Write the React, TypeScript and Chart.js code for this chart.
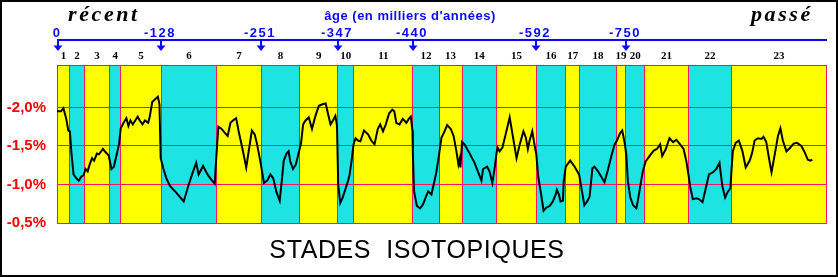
import React, { useEffect, useRef } from 'react';
import { Chart, registerables } from 'chart.js';

Chart.register(...registerables);

// ---- data ----
const stageNumbers = [1, 2, 3, 4, 5, 6, 7, 8, 9, 10, 11, 12, 13, 14, 15, 16, 17, 18, 19, 20, 21, 22, 23];
// stage limits along the time axis (thousands of years, as drawn)
const stageBounds = [0, 16, 33.5, 65.5, 79, 129, 198, 253, 301, 347.5, 368, 441, 473.5, 502, 544.5, 594.5, 630, 648, 693, 705, 728.5, 782, 836.5, 953];
const ageLabels = ['0', '-128', '-251', '-347', '-440', '-592', '-750'];
const agePositions = [0, 128, 251, 347, 440, 592, 704];
const yTickValues = [-2.0, -1.5, -1.0, -0.5];

const curveAge = [
  0, 5, 8, 11.5, 14, 16, 18, 20.5, 24, 27, 30, 33, 35.5, 38, 40.5, 43.5, 46, 49.5, 52, 57, 60, 64, 67.5, 70.5, 74, 77, 79, 82.5, 86, 88.5,
  91, 94, 97, 100, 102.5, 106, 109, 113, 115, 118, 121, 125, 127, 128.5, 132, 135.5, 140, 148, 157, 163, 168, 172.5, 175.5, 181, 186, 190,
  195.5, 196.5, 198.5, 200, 204, 208, 211.5, 215, 218, 222, 225.5, 230.5, 234.5, 238, 241.5, 245, 248, 252, 256.5, 260.5, 264.5, 268, 272,
  276, 278.5, 281, 284.5, 287, 289, 292.5, 296, 300, 302.5, 305, 308, 312, 316, 320, 324.5, 329, 333, 336, 339, 342, 345, 347, 348.5, 351,
  354, 356.5, 360.5, 362.5, 365, 367.5, 370, 373, 376, 380.5, 385.5, 389.5, 393.5, 397.5, 400.5, 404, 407.5, 411.5, 415.5, 418, 420.5,
  424.5, 428.5, 433, 436, 438.5, 440.5, 441, 442.5, 446, 450, 453.5, 457.5, 460, 464, 467, 470, 473.5, 476.5, 479.5, 483.5, 488, 491.5,
  495, 497.5, 499, 500, 502, 505, 511, 517.5, 521.5, 526, 528, 533, 536, 539.5, 542.5, 544.5, 546, 548.5, 552, 556, 561, 565, 569.5, 573.5,
  578, 581, 583.5, 585.5, 589, 592, 594, 596.5, 600, 603, 606.5, 610.5, 614.5, 618, 619.5, 622, 624, 627, 628, 630.5, 636, 641.5, 647, 650,
  653.5, 657, 660, 663.5, 666, 670.5, 674.5, 678.5, 683, 687, 691, 694, 697.5, 700.5, 703.5, 705.5, 707.5, 710.5, 714, 718, 720.5, 723.5,
  726, 729.5, 734.5, 739.5, 743.5, 747.5, 750, 754.5, 759, 763.5, 767.5, 771.5, 776.5, 780, 782.5, 785, 788, 792.5, 795.5, 800, 804, 808,
  813, 817, 821, 824.5, 828, 831.5, 834.5, 836, 837.5, 841, 845, 849.5, 853.5, 858.5, 861.5, 864.5, 868.5, 873, 875.5, 879, 883, 885.5,
  889.5, 893.5, 896.5, 899.5, 904, 908, 913, 917, 922.5, 926.5, 930.5, 933.5, 936,
];
const curveValue = [
  -1.95, -1.95, -1.99, -1.85, -1.70, -1.69, -1.39, -1.13, -1.08, -1.05, -1.10, -1.12, -1.20, -1.17, -1.26, -1.34, -1.31, -1.40, -1.39, -1.46,
  -1.42, -1.38, -1.20, -1.23, -1.39, -1.53, -1.73, -1.80, -1.86, -1.76, -1.83, -1.78, -1.83, -1.88, -1.83, -1.78, -1.83, -1.80, -1.88, -2.07,
  -2.10, -2.14, -2.04, -1.34, -1.20, -1.08, -0.98, -0.89, -0.78, -0.99, -1.15, -1.28, -1.13, -1.24, -1.14, -1.08, -1.01, -1.20, -1.52, -1.75,
  -1.72, -1.67, -1.63, -1.80, -1.83, -1.86, -1.67, -1.43, -1.22, -1.46, -1.70, -1.65, -1.52, -1.30, -1.02, -1.05, -1.13, -1.08, -0.90, -0.79,
  -1.04, -1.31, -1.40, -1.43, -1.30, -1.20, -1.26, -1.43, -1.54, -1.78, -1.83, -1.87, -1.72, -1.88, -2.02, -2.04, -2.05, -1.91, -1.78, -1.83,
  -1.89, -1.76, -1.00, -0.76, -0.83, -0.91, -1.04, -1.12, -1.30, -1.52, -1.60, -1.57, -1.56, -1.70, -1.65, -1.57, -1.52, -1.72, -1.78, -1.69,
  -1.78, -1.92, -1.97, -1.95, -1.80, -1.78, -1.85, -1.80, -1.85, -1.88, -1.70, -1.41, -0.91, -0.72, -0.69, -0.74, -0.85, -0.91, -0.87, -1.01,
  -1.15, -1.39, -1.61, -1.67, -1.77, -1.72, -1.63, -1.43, -1.26, -1.33, -1.22, -1.55, -1.52, -1.41, -1.28, -1.17, -1.05, -1.20, -1.23, -1.17,
  -1.02, -1.22, -1.39, -1.48, -1.43, -1.48, -1.65, -1.87, -1.62, -1.34, -1.52, -1.69, -1.61, -1.46, -1.56, -1.69, -1.50, -1.39, -1.09, -0.87,
  -0.66, -0.70, -0.72, -0.78, -0.87, -0.93, -0.87, -0.78, -0.79, -1.04, -1.23, -1.31, -1.23, -1.13, -0.95, -0.73, -0.78, -0.84, -1.21, -1.23,
  -1.17, -1.10, -1.03, -1.20, -1.37, -1.52, -1.57, -1.66, -1.70, -1.54, -1.39, -1.04, -0.83, -0.73, -0.69, -0.83, -1.02, -1.17, -1.30, -1.37,
  -1.44, -1.46, -1.52, -1.37, -1.46, -1.60, -1.55, -1.58, -1.53, -1.46, -1.30, -1.13, -0.95, -0.81, -0.82, -0.81, -0.77, -0.95, -1.13, -1.16,
  -1.20, -1.28, -0.98, -0.83, -0.91, -0.95, -1.20, -1.43, -1.54, -1.57, -1.43, -1.22, -1.31, -1.41, -1.57, -1.60, -1.59, -1.62, -1.55, -1.30,
  -1.16, -1.39, -1.63, -1.73, -1.57, -1.43, -1.47, -1.53, -1.54, -1.50, -1.42, -1.32, -1.31, -1.32,
];

// ---- styles ----
const YELLOW = '#ffff00';
const CYAN = '#1de3e3';
const RED_LINE = '#ff1464';
const RED_TEXT = '#ff0000';
const BLUE = '#0a0aff';
const AGE_MAX = 953;
const Y_TOP = -2.55;
const Y_BOTTOM = -0.5;

const fmtPct = (v: number) => v.toFixed(1).replace('.', ',') + '%';

const decorPlugin = {
  id: 'decor',
  beforeDraw(chart: any) {
    const { ctx, chartArea, scales } = chart;
    const x = scales.x;
    ctx.save();
    ctx.fillStyle = '#ffffff';
    ctx.fillRect(0, 0, chart.width, chart.height);
    stageNumbers.forEach((s, i) => {
      const x0 = x.getPixelForValue(stageBounds[i]);
      const x1 = x.getPixelForValue(stageBounds[i + 1]);
      ctx.fillStyle = s % 2 === 1 ? YELLOW : CYAN;
      ctx.fillRect(x0, chartArea.top, x1 - x0, chartArea.bottom - chartArea.top);
    });
    ctx.restore();
  },
  afterDraw(chart: any) {
    const { ctx, scales } = chart;
    const x = scales.x;
    ctx.save();
    // header words
    ctx.fillStyle = '#000';
    ctx.textBaseline = 'alphabetic';
    ctx.textAlign = 'left';
    ctx.font = 'italic bold 22px "Liberation Serif"';
    (ctx as any).letterSpacing = '2.6px';
    ctx.fillText('récent', 68, 21);
    ctx.fillText('passé', 751, 21);

    (ctx as any).letterSpacing = '0.5px';
    ctx.fillStyle = BLUE;
    ctx.font = 'bold 13px "Liberation Sans"';
    ctx.textAlign = 'center';
    ctx.fillText("âge (en milliers d'années)", 410, 20);

    // age axis
    const xl = x.getPixelForValue(0);
    const xr = x.getPixelForValue(AGE_MAX);
    ctx.fillRect(xl, 39, xr - xl + 1, 2);
    (ctx as any).letterSpacing = '1.5px';
    ctx.font = 'bold 13px "Liberation Sans"';
    agePositions.forEach((a, i) => {
      const px = Math.round(x.getPixelForValue(a)) + 1;
      ctx.fillText(ageLabels[i], px - 1, 37);
      ctx.fillRect(px - 1, 41, 2, 6);
      ctx.beginPath();
      ctx.moveTo(px - 4.5, 45.5);
      ctx.lineTo(px + 4.5, 45.5);
      ctx.lineTo(px, 51);
      ctx.closePath();
      ctx.fill();
    });

    // bottom title
    (ctx as any).letterSpacing = '0.6px';
    ctx.fillStyle = '#000';
    ctx.font = '25px "Liberation Sans"';
    ctx.fillText('STADES  ISOTOPIQUES', 417, 258);

    // outer frame
    (ctx as any).letterSpacing = '0px';
    ctx.strokeStyle = '#000';
    ctx.lineWidth = 2;
    ctx.strokeRect(1, 1, chart.width - 2, chart.height - 2);
    ctx.restore();
  },
};

export default function App() {
  const ref = useRef<HTMLCanvasElement | null>(null);

  useEffect(() => {
    document.body.style.margin = '0';
    const canvas = ref.current;
    if (!canvas) return;
    const points = curveAge.map((a, i) => ({ x: a, y: curveValue[i] }));
    const chart = new Chart(canvas, {
      type: 'line',
      data: {
        datasets: [
          {
            data: points,
            borderColor: '#000000',
            borderWidth: 2,
            pointRadius: 0,
            tension: 0,
            fill: false,
          },
        ],
      },
      options: {
        animation: false,
        responsive: false,
        devicePixelRatio: 1,
        layout: { padding: { left: 0, top: 0, right: 12, bottom: 54 } },
        plugins: { legend: { display: false }, tooltip: { enabled: false }, title: { display: false } },
        scales: {
          x: {
            type: 'linear',
            position: 'bottom',
            min: 0,
            max: AGE_MAX,
            afterBuildTicks: (axis: any) => {
              axis.ticks = stageBounds.map((v) => ({ value: v }));
            },
            afterFit: (axis: any) => {
              axis.height = 0;
            },
            ticks: { display: false },
            grid: { color: RED_LINE, lineWidth: 1, drawTicks: false },
            border: { display: true, color: RED_LINE, width: 1 },
          },
          stage: {
            type: 'linear',
            position: 'top',
            min: 0,
            max: AGE_MAX,
            afterBuildTicks: (axis: any) => {
              axis.ticks = stageNumbers.map((s, i) => ({ value: (stageBounds[i] + stageBounds[i + 1]) / 2 }));
            },
            afterFit: (axis: any) => {
              axis.height = 65;
            },
            ticks: {
              autoSkip: false,
              maxRotation: 0,
              minRotation: 0,
              padding: 2,
              color: '#000',
              font: { family: '"Liberation Serif"', weight: 'bold', size: 11 },
              callback: (_v: any, i: number) => String(stageNumbers[i]),
            },
            grid: { display: false, drawTicks: false },
            border: { display: false },
          },
          y: {
            type: 'linear',
            position: 'left',
            min: Y_TOP,
            max: Y_BOTTOM,
            reverse: true,
            afterBuildTicks: (axis: any) => {
              axis.ticks = [Y_TOP, ...yTickValues].map((v) => ({ value: v }));
            },
            afterFit: (axis: any) => {
              axis.width = 57;
            },
            ticks: {
              padding: 11,
              color: RED_TEXT,
              font: { family: '"Liberation Sans"', weight: 'bold', size: 15 },
              callback: (v: any) => (yTickValues.includes(Number(v)) ? fmtPct(Number(v)) : ''),
            },
            grid: { color: RED_LINE, lineWidth: 1, drawTicks: false },
            border: { display: true, color: RED_LINE, width: 1 },
          },
        },
      },
      plugins: [decorPlugin],
    });
    return () => chart.destroy();
  }, []);

  return <canvas ref={ref} width={838} height={277} style={{ display: 'block' }} />;
}
